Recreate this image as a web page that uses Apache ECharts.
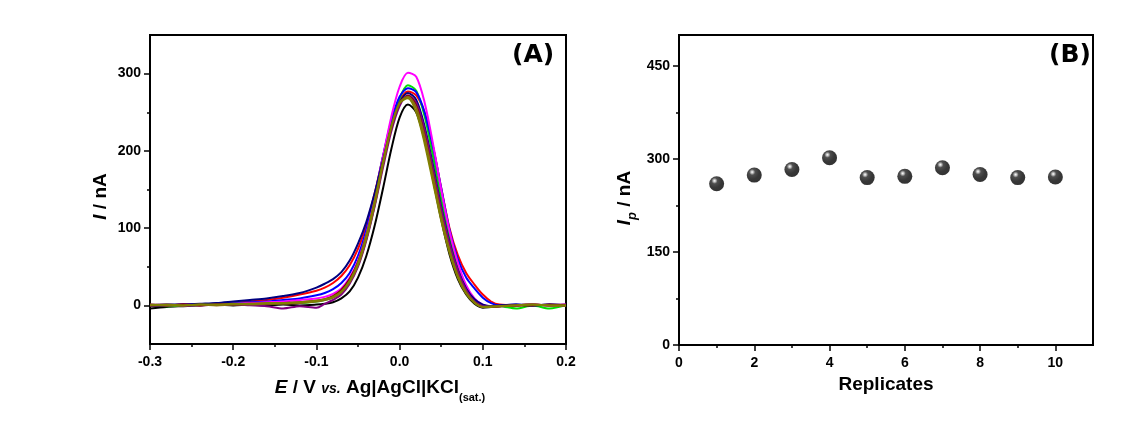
<!DOCTYPE html>
<html>
<head>
<meta charset="UTF-8">
<title>Repeatability</title>
<script src="https://cdn.jsdelivr.net/npm/echarts@6/dist/echarts.min.js"></script>
<style>
    body { margin: 0; background: #fff; }
    #root { width: 1122px; height: 426px; }
</style>
</head>
<body>
<div id="root"></div>
<script>
// ---- panel A : DPV curves (E in V, I in nA) ----
var potential = [-0.30, -0.28, -0.26, -0.24, -0.22, -0.20, -0.18, -0.16, -0.14, -0.12,
    -0.10, -0.09, -0.08, -0.07, -0.06, -0.05, -0.04, -0.03, -0.02, -0.01, 0.00,
    0.01, 0.02, 0.03, 0.04, 0.05, 0.06, 0.07, 0.08, 0.09, 0.10,
    0.11, 0.12, 0.14, 0.16, 0.18, 0.20];

var curveBlack   = [-4, -2, -1, 0, 1, 0, 1, 0, 1, 0, 1, 2, 4, 9, 18, 36, 64, 103, 151, 202, 243, 260, 250, 214, 164, 111, 66, 34, 14, 2, -3, -2, -1, 0, 1, 0, 1];
var curveRed     = [0, 0, 1, 1, 2, 3, 5, 7, 10, 14, 19, 23, 29, 38, 52, 73, 104, 145, 192, 236, 265, 277, 272, 250, 206, 152, 100, 65, 42, 27, 14, 5, 1, 0, 1, 0, 0];
var curveGreen   = [0, -1, 0, 1, 2, 1, 2, 2, 3, 3, 5, 7, 10, 18, 30, 52, 86, 130, 183, 232, 268, 285, 278, 245, 194, 138, 88, 50, 24, 8, 0, -2, -1, -4, 0, -4, 0];
var curveBlue    = [0, 0, 1, 1, 2, 3, 4, 5, 7, 9, 13, 16, 21, 29, 42, 64, 98, 142, 193, 239, 270, 281, 276, 250, 206, 152, 98, 60, 36, 22, 10, 3, 0, 1, 0, 1, 0];
var curveMagenta = [0, 1, 0, 1, 2, 2, 3, 4, 5, 7, 9, 11, 15, 22, 36, 58, 92, 138, 192, 244, 283, 301, 296, 263, 210, 150, 96, 55, 26, 9, 1, -1, -1, 0, 1, 0, 1];
var curveNavy    = [0, 1, 1, 2, 3, 5, 7, 9, 12, 16, 23, 28, 34, 43, 58, 80, 108, 145, 188, 230, 262, 275, 266, 232, 182, 128, 82, 46, 22, 8, 1, -1, 0, 1, 0, 1, 0];
var curvePurple  = [1, 0, 1, 0, 1, 1, 0, -1, -4, -1, -3, 2, 7, 14, 28, 50, 84, 128, 178, 225, 258, 272, 262, 228, 178, 125, 80, 45, 20, 5, -1, -2, -1, 0, 1, 0, 0];
var curveWine    = [0, 0, 1, 0, 1, 1, 2, 2, 3, 4, 6, 8, 12, 20, 34, 56, 90, 134, 184, 230, 262, 271, 258, 220, 168, 115, 70, 38, 16, 4, -2, -2, -1, 0, 0, 1, 0];
var curveDkYellow = [1, 0, 0, 1, 0, 1, 1, 2, 2, 3, 5, 7, 10, 17, 30, 52, 86, 130, 182, 230, 262, 270, 256, 218, 168, 116, 72, 39, 17, 4, -2, -1, -1, 0, 1, 0, 0];
var curveOlive   = [0, 1, 0, 1, 1, 2, 2, 3, 3, 4, 6, 8, 11, 18, 32, 55, 90, 135, 186, 232, 262, 268, 250, 210, 160, 110, 68, 36, 15, 3, -2, -2, -1, 0, 1, 0, 0];

var curveList = [curveBlack, curveRed, curveGreen, curveBlue, curveMagenta, curveNavy, curvePurple, curveWine, curveDkYellow, curveOlive];
var curveColors = ['#000000', '#ff0000', '#00e000', '#0000ff', '#ff00ff', '#000080', '#800080', '#800000', '#8b6914', '#808000'];

var xTicksA = [-0.3, -0.2, -0.1, 0.0, 0.1, 0.2];
var xMinorA = [-0.25, -0.15, -0.05, 0.05, 0.15];
var yTicksA = [0, 100, 200, 300];
var yMinorA = [50, 150, 250];

// ---- panel B : peak currents of the replicates ----
var replicates = [1, 2, 3, 4, 5, 6, 7, 8, 9, 10];
var peakCurrent = [260, 274, 283, 302, 270, 272, 286, 275, 270, 271];

var xTicksB = [0, 2, 4, 6, 8, 10];
var xMinorB = [1, 3, 5, 7, 9];
var yTicksB = [0, 150, 300, 450];
var yMinorB = [75, 225, 375];

var FONT = 'Liberation Sans';
var chart = echarts.init(document.getElementById('root'));

function mainAxis(grid, min, max, ticks, fmt, margin, extra) {
    var ax = {
        gridIndex: grid, type: 'value', min: min, max: max,
        splitLine: { show: false },
        axisLine: { onZero: false, lineStyle: { color: '#000', width: 2 } },
        axisTick: { customValues: ticks, length: 6, lineStyle: { color: '#000', width: 1.5 } },
        axisLabel: {
            customValues: ticks, formatter: fmt, color: '#000', margin: margin,
            fontSize: 14, fontWeight: 'bold', fontFamily: FONT
        },
        nameLocation: 'middle'
    };
    for (var k in extra) ax[k] = extra[k];
    return ax;
}

function minorAxis(grid, min, max, ticks, pos) {
    return {
        gridIndex: grid, type: 'value', min: min, max: max, position: pos,
        splitLine: { show: false },
        axisLine: { show: false, onZero: false },
        axisLabel: { show: false },
        axisTick: { customValues: ticks, length: 3, lineStyle: { color: '#000', width: 1.5 } }
    };
}

var rich = {
    i: { fontSize: 19, fontWeight: 'bold', fontStyle: 'italic', fontFamily: FONT, color: '#000' },
    b: { fontSize: 19, fontWeight: 'bold', fontFamily: FONT, color: '#000' },
    v: { fontSize: 14, fontWeight: 'bold', fontStyle: 'italic', fontFamily: FONT, color: '#000', padding: [4, 0, 0, 0] },
    s: { fontSize: 11, fontWeight: 'bold', fontFamily: FONT, color: '#000', padding: [20, 0, 0, 0] },
    p: { fontSize: 13, fontWeight: 'bold', fontStyle: 'italic', fontFamily: FONT, color: '#000', padding: [16, 0, 0, 0] }
};

var series = curveList.map(function (vals, n) {
    return {
        type: 'line', xAxisIndex: 0, yAxisIndex: 0,
        data: potential.map(function (e, i) { return [e, vals[i]]; }),
        smooth: 0.3, showSymbol: false,
        lineStyle: { color: curveColors[n], width: 2 },
        z: 2 + n
    };
});

series.push({
    type: 'scatter', xAxisIndex: 2, yAxisIndex: 2,
    data: replicates.map(function (r, i) { return [r, peakCurrent[i]]; }),
    symbolSize: 15,
    itemStyle: {
        color: {
            type: 'radial', x: 0.36, y: 0.3, r: 0.72,
            colorStops: [
                { offset: 0, color: '#ffffff' },
                { offset: 0.1, color: '#bdbdbd' },
                { offset: 0.28, color: '#222222' },
                { offset: 0.65, color: '#050505' },
                { offset: 1, color: '#000000' }
            ]
        }
    }
});

chart.setOption({
    animation: false,
    backgroundColor: '#fff',
    title: [
        { text: '(A)', left: 512, top: 43, padding: 0,
          textStyle: { fontSize: 25, fontWeight: 'bold', fontFamily: 'DejaVu Sans', color: '#000' } },
        { text: '(B)', left: 1049, top: 43, padding: 0,
          textStyle: { fontSize: 25, fontWeight: 'bold', fontFamily: 'DejaVu Sans', color: '#000' } }
    ],
    grid: [
        { left: 150, top: 35, width: 416, height: 309, show: true, borderColor: '#000', borderWidth: 2 },
        { left: 679, top: 35, width: 414, height: 310, show: true, borderColor: '#000', borderWidth: 2 }
    ],
    xAxis: [
        mainAxis(0, -0.3, 0.2, xTicksA, function (v) { return v.toFixed(1); }, 11, {
            interval: 0.1, position: 'bottom',
            name: '{i|E}{b| / V }{v|vs.}{b| Ag|AgCl|KCl}{s|(sat.)}',
            nameGap: 28, nameTextStyle: { rich: rich, padding: [0, 0, 0, 44] }
        }),
        minorAxis(0, -0.3, 0.2, xMinorA, 'bottom'),
        mainAxis(1, 0, 11, xTicksB, function (v) { return String(v); }, 11, {
            interval: 1, position: 'bottom',
            name: 'Replicates', nameGap: 26,
            nameTextStyle: { fontSize: 19, fontWeight: 'bold', fontFamily: FONT, color: '#000' }
        }),
        minorAxis(1, 0, 11, xMinorB, 'bottom')
    ],
    yAxis: [
        mainAxis(0, -50, 350, yTicksA, function (v) { return String(v); }, 9, {
            interval: 50, position: 'left',
            name: '{i|I}{b| / nA}', nameGap: 40,
            nameTextStyle: { rich: rich, padding: [0, 14, 0, 0] }
        }),
        minorAxis(0, -50, 350, yMinorA, 'left'),
        mainAxis(1, 0, 500, yTicksB, function (v) { return String(v); }, 9, {
            interval: 50, position: 'left',
            name: '{i|I}{p|p}{b| / nA}', nameGap: 40,
            nameTextStyle: { rich: rich, padding: [0, 16, 0, 0] }
        }),
        minorAxis(1, 0, 500, yMinorB, 'left')
    ],
    series: series
});
</script>
</body>
</html>
